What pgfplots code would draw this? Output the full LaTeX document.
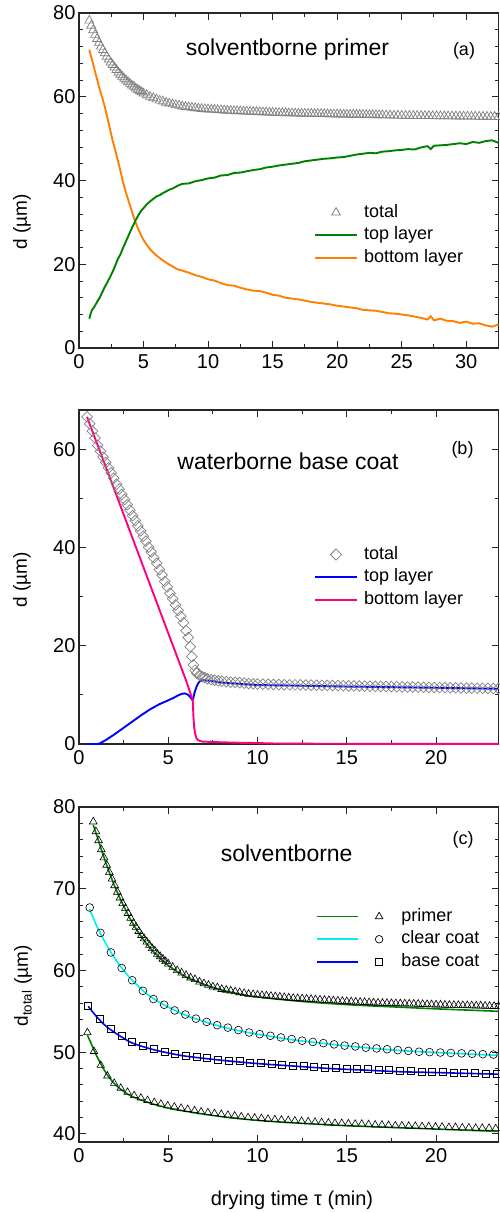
\documentclass[border=0pt]{standalone}
\usepackage{fontspec}
\setmainfont{Liberation Sans}
\usepackage{pgfplots}
\usepackage{pgfplotstable}
\pgfplotsset{compat=1.18}

\definecolor{cgray}{RGB}{128,128,128}
\definecolor{cgreen}{RGB}{0,128,0}
\definecolor{corange}{RGB}{255,128,0}
\definecolor{cblue}{RGB}{0,0,255}
\definecolor{cpink}{RGB}{255,0,128}
\definecolor{ccyan}{RGB}{0,240,240}

% panel (a) total / panel (c) primer (upper)
\pgfplotstableread[row sep=\\]{x y\\
0.8 78.2\\ 0.95 77.0\\ 1.1 75.9\\ 1.25 74.8\\ 1.4 73.8\\ 1.55 72.9\\ 1.7 72.0\\ 1.85 71.2\\
2.0 70.4\\ 2.15 69.6\\ 2.3 68.9\\ 2.45 68.2\\ 2.6 67.6\\ 2.75 67.0\\ 2.9 66.4\\ 3.05 65.8\\
3.2 65.3\\ 3.35 64.8\\ 3.5 64.3\\ 3.65 63.9\\ 3.8 63.5\\ 3.95 63.1\\ 4.1 62.7\\ 4.25 62.4\\
4.4 62.0\\ 4.55 61.7\\ 4.7 61.4\\ 4.85 61.1\\ 5.0 60.8\\ 5.25 60.4\\ 5.5 60.0\\ 5.75 59.7\\
6.0 59.4\\ 6.25 59.1\\ 6.5 58.9\\ 6.75 58.6\\ 7.0 58.4\\ 7.25 58.2\\ 7.5 58.0\\ 7.75 57.9\\
8.0 57.7\\ 8.25 57.6\\ 8.5 57.5\\ 8.75 57.4\\ 9.0 57.3\\ 9.25 57.2\\ 9.5 57.1\\ 9.75 57.05\\
10 57.0\\ 10.25 56.95\\ 10.5 56.9\\ 10.75 56.85\\ 11 56.8\\ 11.25 56.75\\ 11.5 56.7\\ 11.75 56.65\\
12 56.6\\ 12.25 56.57\\ 12.5 56.54\\ 12.75 56.5\\ 13 56.47\\ 13.25 56.43\\ 13.5 56.4\\ 13.75 56.37\\
14 56.34\\ 14.25 56.3\\ 14.5 56.27\\ 14.75 56.23\\ 15 56.2\\ 15.25 56.17\\ 15.5 56.15\\ 15.75 56.12\\
16 56.1\\ 16.25 56.07\\ 16.5 56.05\\ 16.75 56.02\\ 17 56.0\\ 17.25 55.98\\ 17.5 55.97\\ 17.75 55.95\\
18 55.94\\ 18.25 55.92\\ 18.5 55.91\\ 18.75 55.9\\ 19 55.88\\ 19.25 55.86\\ 19.5 55.84\\ 19.75 55.82\\
20 55.8\\ 20.25 55.79\\ 20.5 55.77\\ 20.75 55.76\\ 21 55.75\\ 21.25 55.73\\ 21.5 55.72\\ 21.75 55.71\\
22 55.7\\ 22.25 55.68\\ 22.5 55.67\\ 22.75 55.65\\ 23 55.63\\ 23.25 55.62\\ 23.5 55.6\\ 23.8 55.58\\
24.1 55.56\\ 24.4 55.54\\ 24.7 55.52\\ 25 55.5\\ 25.3 55.49\\ 25.6 55.47\\ 25.9 55.46\\ 26.2 55.45\\
26.5 55.44\\ 26.8 55.43\\ 27.1 55.42\\ 27.4 55.4\\ 27.7 55.39\\ 28 55.38\\ 28.3 55.37\\ 28.6 55.36\\
28.9 55.34\\ 29.2 55.33\\ 29.5 55.32\\ 29.8 55.31\\ 30.1 55.3\\ 30.4 55.29\\ 30.7 55.28\\ 31 55.26\\
31.3 55.25\\ 31.6 55.24\\ 31.9 55.23\\ 32.2 55.22\\ 32.5 55.2\\
}\tPrimer

% panel (a) top layer
\pgfplotstableread[row sep=\\]{x y\\
0.8 7.0\\ 0.9 8.2\\ 1.0 9.0\\ 1.2 9.9\\ 1.4 11.0\\ 1.6 12.0\\ 1.8 13.3\\ 2.0 14.6\\ 2.2 15.7\\
2.4 16.9\\ 2.6 18.2\\ 2.8 19.6\\ 3.0 21.2\\ 3.2 22.3\\ 3.4 23.8\\ 3.6 25.2\\ 3.8 26.6\\ 4.0 28.0\\
4.2 29.3\\ 4.4 30.6\\ 4.6 31.7\\ 4.8 32.7\\ 5.0 33.4\\ 5.25 34.3\\ 5.5 35.0\\ 5.75 35.6\\ 6.0 36.2\\
6.25 36.5\\ 6.5 37.0\\ 6.75 37.4\\ 7.0 37.8\\ 7.25 38.1\\ 7.5 38.5\\ 7.75 38.9\\ 8.0 39.2\\
8.5 39.3\\ 9.0 39.8\\ 9.5 40.1\\ 10.0 40.5\\ 10.5 40.7\\ 11.0 41.2\\ 11.5 41.3\\ 12.0 41.8\\
12.5 41.9\\ 13.0 42.2\\ 13.5 42.5\\ 14.0 42.7\\ 14.5 43.1\\ 15.0 43.3\\ 15.5 43.6\\ 16.0 43.8\\
16.5 44.0\\ 17.0 44.2\\ 17.5 44.6\\ 18.0 44.8\\ 18.5 45.0\\ 19.0 45.2\\ 19.5 45.3\\ 20.0 45.5\\
20.5 45.6\\ 21.0 45.9\\ 21.5 46.2\\ 22.0 46.4\\ 22.5 46.6\\ 23.0 46.5\\ 23.5 46.9\\ 24.0 47.0\\
24.5 47.2\\ 25.0 47.3\\ 25.5 47.5\\ 26.0 47.4\\ 26.5 47.9\\ 27.0 48.2\\ 27.25 47.5\\ 27.5 48.3\\
28.0 48.4\\ 28.5 48.5\\ 29.0 48.7\\ 29.5 48.9\\ 30.0 48.7\\ 30.5 49.2\\ 31.0 49.0\\ 31.5 49.4\\
32.0 49.6\\ 32.5 49.0\\
}\tAtoplayer

% panel (a) bottom layer
\pgfplotstableread[row sep=\\]{x y\\
0.8 71.2\\ 0.9 70.0\\ 1.0 69.0\\ 1.2 66.5\\ 1.4 64.2\\ 1.6 61.8\\ 1.8 59.8\\ 2.0 57.6\\ 2.2 55.0\\
2.4 52.3\\ 2.6 49.6\\ 2.8 47.3\\ 3.0 44.9\\ 3.2 42.4\\ 3.4 39.8\\ 3.6 37.5\\ 3.8 35.5\\ 4.0 33.6\\
4.2 31.6\\ 4.4 29.9\\ 4.6 28.3\\ 4.8 27.0\\ 5.0 25.8\\ 5.25 24.6\\ 5.5 23.6\\ 5.75 22.8\\ 6.0 22.1\\
6.25 21.5\\ 6.5 20.9\\ 6.75 20.4\\ 7.0 19.9\\ 7.25 19.5\\ 7.5 19.0\\ 7.75 18.7\\ 8.0 18.5\\
8.5 18.0\\ 9.0 17.4\\ 9.5 17.0\\ 10.0 16.4\\ 10.5 16.1\\ 11.0 15.5\\ 11.5 15.0\\ 12.0 14.9\\
12.5 14.4\\ 13.0 14.0\\ 13.5 13.7\\ 14.0 13.6\\ 14.5 13.2\\ 15.0 12.7\\ 15.5 12.5\\ 16.0 12.0\\
16.5 11.8\\ 17.0 11.6\\ 17.5 11.3\\ 18.0 11.0\\ 18.5 10.8\\ 19.0 10.6\\ 19.5 10.4\\ 20.0 10.1\\
20.5 9.9\\ 21.0 9.7\\ 21.5 9.5\\ 22.0 9.1\\ 22.5 9.0\\ 23.0 8.9\\ 23.5 8.6\\ 24.0 8.3\\
24.5 8.2\\ 25.0 8.0\\ 25.5 7.8\\ 26.0 7.5\\ 26.5 7.2\\ 27.0 6.8\\ 27.25 7.6\\ 27.5 6.6\\
28.0 7.0\\ 28.5 6.5\\ 29.0 6.4\\ 29.5 6.0\\ 30.0 6.3\\ 30.5 5.8\\ 31.0 5.9\\ 31.5 5.4\\
32.0 5.1\\ 32.5 5.6\\
}\tAbotlayer

% panel (b) total
\pgfplotstableread[row sep=\\]{x y\\
0.45 66.6\\ 0.60 65.2\\ 0.75 63.7\\ 0.90 62.3\\ 1.05 60.8\\ 1.20 59.6\\ 1.35 58.4\\ 1.50 57.3\\
1.65 56.2\\ 1.80 55.2\\ 1.95 54.1\\ 2.10 52.9\\ 2.25 51.9\\ 2.40 50.8\\ 2.55 49.8\\ 2.70 48.7\\
2.85 47.6\\ 3.00 46.5\\ 3.15 45.5\\ 3.30 44.4\\ 3.45 43.4\\ 3.60 42.3\\ 3.75 41.3\\ 3.90 40.1\\
4.05 39.1\\ 4.20 37.9\\ 4.35 36.8\\ 4.50 35.5\\ 4.65 34.4\\ 4.80 33.1\\ 4.95 32.0\\ 5.10 30.7\\
5.25 29.6\\ 5.40 28.3\\ 5.55 27.2\\ 5.70 26.0\\ 5.85 24.7\\ 6.00 23.1\\ 6.12 21.7\\ 6.23 19.8\\
6.32 17.8\\ 6.41 16.1\\ 6.50 15.0\\ 6.60 14.4\\ 6.75 14.0\\ 6.90 13.7\\ 7.05 13.5\\ 7.20 13.3\\
7.40 13.1\\ 7.60 13.0\\ 7.80 12.9\\ 8.00 12.8\\ 8.25 12.7\\ 8.50 12.6\\ 8.75 12.55\\ 9.00 12.5\\
9.25 12.4\\ 9.50 12.3\\ 9.75 12.25\\ 10.0 12.2\\ 10.3 12.17\\ 10.6 12.15\\ 10.9 12.12\\ 11.2 12.1\\
11.5 12.08\\ 11.8 12.06\\ 12.1 12.04\\ 12.4 12.02\\ 12.7 12.0\\ 13.0 11.98\\ 13.3 11.96\\ 13.6 11.94\\
13.9 11.92\\ 14.2 11.9\\ 14.5 11.88\\ 14.8 11.86\\ 15.1 11.84\\ 15.4 11.82\\ 15.7 11.8\\ 16.0 11.78\\
16.3 11.76\\ 16.6 11.74\\ 16.9 11.72\\ 17.2 11.7\\ 17.5 11.68\\ 17.8 11.66\\ 18.1 11.64\\ 18.4 11.62\\
18.7 11.6\\ 19.0 11.58\\ 19.3 11.56\\ 19.6 11.54\\ 19.9 11.52\\ 20.2 11.5\\ 20.5 11.48\\ 20.8 11.46\\
21.1 11.44\\ 21.4 11.42\\ 21.7 11.4\\ 22.0 11.38\\ 22.3 11.36\\ 22.6 11.34\\ 22.9 11.32\\ 23.2 11.3\\
23.5 11.28\\
}\tBtotal

% panel (b) top layer
\pgfplotstableread[row sep=\\]{x y\\
0.45 0\\ 1.0 0\\ 1.1 0.05\\ 1.2 0.2\\ 1.35 0.5\\ 1.5 0.8\\ 1.75 1.4\\ 2.0 2.0\\ 2.5 3.3\\
3.0 4.6\\ 3.5 5.9\\ 4.0 7.1\\ 4.5 8.1\\ 5.0 8.9\\ 5.3 9.4\\ 5.55 9.9\\ 5.75 10.2\\ 5.9 10.3\\
6.0 10.2\\ 6.1 10.05\\ 6.2 9.7\\ 6.3 9.25\\ 6.36 8.9\\ 6.40 9.3\\ 6.45 10.1\\ 6.5 10.8\\
6.6 11.8\\ 6.7 12.5\\ 6.8 12.9\\ 7.0 13.0\\ 7.5 12.8\\ 8.0 12.5\\ 9.0 12.25\\ 10.0 12.0\\
12.0 11.9\\ 15.0 11.7\\ 20.0 11.45\\ 23.5 11.25\\
}\tBtoplayer

% panel (b) bottom layer
\pgfplotstableread[row sep=\\]{x y\\
0.45 66.6\\ 3.0 41.9\\ 6.0 12.9\\ 6.3 9.7\\ 6.37 9.0\\ 6.41 5.6\\ 6.45 3.5\\ 6.50 2.2\\
6.56 1.4\\ 6.63 0.9\\ 6.75 0.65\\ 6.9 0.5\\ 7.2 0.45\\ 7.6 0.4\\ 8.0 0.35\\ 9.0 0.25\\
10.0 0.2\\ 11.0 0.1\\ 12.0 0.08\\ 14.0 0.05\\ 17.0 0.03\\ 23.5 0.02\\
}\tBbotlayer

% panel (c) primer lower (markers)
\pgfplotstableread[row sep=\\]{x y\\
0.47 52.4\\ 0.84 50.1\\ 1.22 48.4\\ 1.59 47.1\\ 1.97 46.2\\ 2.34 45.6\\ 2.72 45.1\\ 3.09 44.7\\
3.47 44.4\\ 3.84 44.1\\ 4.22 43.85\\ 4.59 43.65\\ 4.97 43.45\\ 5.34 43.3\\ 5.72 43.15\\ 6.09 43.0\\
6.47 42.85\\ 6.84 42.7\\ 7.22 42.6\\ 7.59 42.5\\ 7.97 42.4\\ 8.34 42.3\\ 8.72 42.2\\ 9.09 42.1\\
9.47 42.0\\ 9.84 41.95\\ 10.22 41.9\\ 10.59 41.8\\ 10.97 41.75\\ 11.34 41.7\\ 11.72 41.65\\ 12.09 41.6\\
12.47 41.55\\ 12.84 41.5\\ 13.22 41.45\\ 13.59 41.4\\ 13.97 41.35\\ 14.34 41.3\\ 14.72 41.3\\ 15.09 41.25\\
15.47 41.2\\ 15.84 41.2\\ 16.22 41.15\\ 16.59 41.1\\ 16.97 41.1\\ 17.34 41.05\\ 17.72 41.0\\ 18.09 41.0\\
18.47 40.95\\ 18.84 40.95\\ 19.22 40.9\\ 19.59 40.9\\ 19.97 40.85\\ 20.34 40.85\\ 20.72 40.8\\ 21.09 40.8\\
21.47 40.75\\ 21.84 40.75\\ 22.22 40.7\\ 22.59 40.7\\ 22.97 40.7\\ 23.34 40.65\\
}\tClow

% panel (c) clear coat (markers)
\pgfplotstableread[row sep=\\]{x y\\
0.60 67.7\\ 1.20 64.6\\ 1.79 62.2\\ 2.39 60.3\\ 2.98 58.8\\ 3.58 57.5\\ 4.17 56.5\\ 4.77 55.8\\
5.36 55.1\\ 5.96 54.6\\ 6.55 54.1\\ 7.15 53.7\\ 7.74 53.3\\ 8.34 53.0\\ 8.93 52.7\\ 9.53 52.4\\
10.12 52.2\\ 10.72 52.0\\ 11.31 51.8\\ 11.91 51.6\\ 12.50 51.4\\ 13.10 51.25\\ 13.69 51.1\\ 14.29 50.95\\
14.88 50.8\\ 15.48 50.7\\ 16.07 50.55\\ 16.67 50.45\\ 17.26 50.35\\ 17.86 50.25\\ 18.45 50.15\\ 19.05 50.05\\
19.64 50.0\\ 20.24 49.95\\ 20.83 49.9\\ 21.43 49.85\\ 22.02 49.8\\ 22.62 49.75\\ 23.21 49.7\\
}\tCclear

% panel (c) base coat (markers)
\pgfplotstableread[row sep=\\]{x y\\
0.52 55.7\\ 1.18 54.1\\ 1.78 52.9\\ 2.38 52.0\\ 2.98 51.3\\ 3.58 50.75\\ 4.18 50.4\\ 4.78 50.1\\
5.38 49.85\\ 5.98 49.6\\ 6.58 49.4\\ 7.18 49.25\\ 7.78 49.1\\ 8.38 49.0\\ 8.98 48.9\\ 9.58 48.75\\
10.18 48.65\\ 10.78 48.55\\ 11.38 48.45\\ 11.98 48.35\\ 12.58 48.3\\ 13.18 48.2\\ 13.78 48.1\\ 14.38 48.05\\
14.98 48.0\\ 15.58 47.95\\ 16.18 47.9\\ 16.78 47.85\\ 17.38 47.8\\ 17.98 47.75\\ 18.58 47.7\\ 19.18 47.65\\
19.78 47.6\\ 20.38 47.55\\ 20.98 47.5\\ 21.58 47.5\\ 22.18 47.45\\ 22.78 47.4\\ 23.38 47.4\\
}\tCbase

% panel (c) fit lines
\pgfplotstableread[row sep=\\]{x y\\
0.8 77.8\\ 1.0 76.5\\ 1.5 73.2\\ 2 70.3\\ 2.5 67.9\\ 3 65.8\\ 3.5 64.1\\ 4 62.7\\ 4.5 61.6\\
5 60.6\\ 6 59.2\\ 7 58.3\\ 8 57.6\\ 9 57.1\\ 10 56.75\\ 12 56.3\\ 14 55.95\\ 16 55.7\\
18 55.5\\ 20 55.3\\ 23.5 55.0\\
}\tFitPrimerUp
\pgfplotstableread[row sep=\\]{x y\\
0.47 52.1\\ 1 49.5\\ 1.5 47.5\\ 2 46.1\\ 2.5 45.2\\ 3 44.55\\ 4 43.75\\ 5 43.15\\ 6 42.75\\
8 42.1\\ 10 41.65\\ 12 41.35\\ 15 41.0\\ 18 40.75\\ 21 40.5\\ 23.5 40.3\\
}\tFitPrimerLow
\pgfplotstableread[row sep=\\]{x y\\
0.6 67.5\\ 1.0 65.4\\ 1.5 63.3\\ 2 61.5\\ 2.5 60.0\\ 3 58.75\\ 3.5 57.7\\ 4 56.8\\ 5 55.5\\
6 54.5\\ 7 53.75\\ 8 53.1\\ 9 52.6\\ 10 52.2\\ 12 51.5\\ 14 51.0\\ 16 50.55\\ 18 50.2\\
20 49.95\\ 22 49.75\\ 23.5 49.6\\
}\tFitClear
\pgfplotstableread[row sep=\\]{x y\\
0.52 55.6\\ 1 54.3\\ 1.5 53.2\\ 2 52.4\\ 2.5 51.7\\ 3 51.1\\ 4 50.4\\ 5 49.9\\ 6 49.5\\
8 49.0\\ 10 48.6\\ 12 48.3\\ 14 48.0\\ 16 47.8\\ 18 47.6\\ 20 47.5\\ 23.5 47.3\\
}\tFitBase

\pgfplotsset{
  panel/.style={
    scale only axis, width=419.5pt, xmin=0,
    axis line style={line width=1.2pt, black!85},
    tick align=inside, xtick pos=both, ytick pos=both,
    major tick length=7pt, minor tick length=4pt,
    every tick/.style={black!85, line width=1pt},
    tick label style={font=\fontsize{20}{24}\selectfont},
    xticklabel style={yshift=-3pt},
    /pgf/number format/assume math mode=true,
    minor x tick num=1,
    legend cell align=left,
    legend style={draw=none, fill=none, inner sep=0pt, row sep=2pt, column sep=4pt,
      font=\fontsize{18}{20}\selectfont,
      nodes={inner sep=2pt, text height=13pt, text depth=3.7pt}},
    legend image code/.code={\draw[mark repeat=2,mark phase=2,##1] plot coordinates {(0pt,0pt) (21pt,0pt) (42pt,0pt)};},
  },
}

\begin{document}
\begin{tikzpicture}
\useasboundingbox (0,0) rectangle (499pt,-1213pt);

% ---------------- panel (a)
\begin{axis}[panel, at={(79pt,-348pt)}, anchor=south west, height=335pt,
  xmax=32.5, ymin=0, ymax=80, xtick={0,5,...,30}, ytick={0,20,...,80}, minor y tick num=4,
  legend style={at={(0.560,0.4358)}, anchor=north west}]
\addlegendimage{only marks, mark=triangle, mark size=5pt, cgray, line width=0.8pt}
\addlegendentry{total}
\addlegendimage{cgreen, line width=1.9pt}
\addlegendentry{top layer}
\addlegendimage{corange, line width=1.9pt}
\addlegendentry{bottom layer}
\addplot[forget plot, only marks, mark=triangle, mark size=5.2pt, cgray, line width=0.7pt] table {\tPrimer};
\addplot[forget plot, corange, line width=1.9pt] table {\tAbotlayer};
\addplot[forget plot, cgreen, line width=1.9pt] table {\tAtoplayer};
\end{axis}
\node[font=\fontsize{23}{27}\selectfont] at (287.5pt,-49.5pt) {solventborne primer};
\node[font=\fontsize{18}{21}\selectfont] at (464pt,-50.5pt) {(a)};
\node[rotate=90, font=\fontsize{19}{22}\selectfont] at (22pt,-222pt) {d (µm)};

% ---------------- panel (b)
\begin{axis}[panel, at={(79pt,-744pt)}, anchor=south west, height=334pt,
  xmax=23.5, ymin=0, ymax=68, xtick={0,5,...,20}, ytick={0,20,...,60}, minor y tick num=1,
  legend style={at={(0.560,0.599)}, anchor=north west}]
\addlegendimage{only marks, mark=square, mark options={rotate=45}, mark size=3.9pt, cgray, line width=0.8pt}
\addlegendentry{total}
\addlegendimage{cblue, line width=1.9pt}
\addlegendentry{top layer}
\addlegendimage{cpink, line width=1.9pt}
\addlegendentry{bottom layer}
\addplot[forget plot, cblue, line width=1.9pt] table {\tBtoplayer};
\addplot[forget plot, only marks, mark=square, mark options={rotate=45}, mark size=3.8pt, cgray, line width=0.7pt] table {\tBtotal};
\addplot[forget plot, cpink, line width=1.9pt] table {\tBbotlayer};
\end{axis}
\node[font=\fontsize{23}{27}\selectfont] at (288pt,-461pt) {waterborne base coat};
\node[font=\fontsize{18}{21}\selectfont] at (462.5pt,-450pt) {(b)};
\node[rotate=90, font=\fontsize{19}{22}\selectfont] at (22pt,-580pt) {d (µm)};

% ---------------- panel (c)
\begin{axis}[panel, at={(79pt,-1142pt)}, anchor=south west, height=335pt,
  xmax=23.5, ymin=39, ymax=80, xtick={0,5,...,20}, ytick={40,50,...,80}, minor y tick num=4,
  legend style={at={(0.565,0.7045)}, anchor=north west}]
\addlegendimage{legend image code/.code={
  \draw[cgreen, line width=1.8pt] (0pt,0pt) -- (41pt,0pt);
  \draw[black, line width=0.7pt] plot[mark=triangle, mark size=4.3pt] coordinates {(62pt,0pt)};
  \path (78pt,0pt);}}
\addlegendentry{primer}
\addlegendimage{legend image code/.code={
  \draw[ccyan, line width=1.8pt] (0pt,0pt) -- (41pt,0pt);
  \draw[black, line width=0.7pt] plot[mark=o, mark size=3.8pt] coordinates {(62pt,0pt)};
  \path (78pt,0pt);}}
\addlegendentry{clear coat}
\addlegendimage{legend image code/.code={
  \draw[cblue, line width=1.8pt] (0pt,0pt) -- (41pt,0pt);
  \draw[black, line width=0.7pt] plot[mark=square, mark size=3.4pt] coordinates {(62pt,0pt)};
  \path (78pt,0pt);}}
\addlegendentry{base coat}
\addplot[forget plot, only marks, mark=triangle, mark size=4.5pt, black, line width=0.6pt, restrict x to domain=0:24] table {\tPrimer};
\addplot[forget plot, only marks, mark=triangle, mark size=4.3pt, black, line width=0.6pt] table {\tClow};
\addplot[forget plot, only marks, mark=o, mark size=3.9pt, black, line width=0.6pt] table {\tCclear};
\addplot[forget plot, only marks, mark=square, mark size=3.5pt, black, line width=0.6pt] table {\tCbase};
\addplot[forget plot, cgreen, line width=1.6pt, smooth] table {\tFitPrimerUp};
\addplot[forget plot, cgreen, line width=1.6pt, smooth] table {\tFitPrimerLow};
\addplot[forget plot, ccyan, line width=1.6pt, smooth] table {\tFitClear};
\addplot[forget plot, cblue, line width=1.6pt, smooth] table {\tFitBase};
\end{axis}
\node[font=\fontsize{23}{27}\selectfont] at (286.7pt,-853.5pt) {solventborne};
\node[font=\fontsize{18}{21}\selectfont] at (463pt,-839.5pt) {(c)};
\node[rotate=90, font=\fontsize{19}{22}\selectfont] at (23pt,-986pt) {d\textsubscript{total} (µm)};
\node[font=\fontsize{20}{24}\selectfont] at (292pt,-1200pt) {drying time τ (min)};
\end{tikzpicture}
\end{document}
